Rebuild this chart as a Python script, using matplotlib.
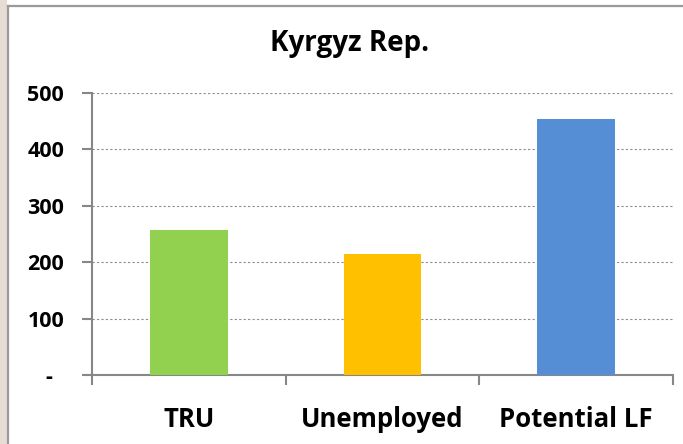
import numpy as np
import matplotlib.pyplot as plt
from matplotlib.patches import Rectangle
from matplotlib.lines import Line2D

categories = ['TRU', 'Unemployed', 'Potential LF']
values = [257, 215, 453]
colors = ['#92D050', '#FFC000', '#558ED5']
yticks = [0, 100, 200, 300, 400, 500]
ytick_labels = ['-  ', '100', '200', '300', '400', '500']

plt.rcParams['font.family'] = ['Open Sans', 'DejaVu Sans']

W, H = 683, 444
fig = plt.figure(figsize=(W / 100, H / 100), dpi=100)

# strip of background at the far left and the chart frame
fig.patches.append(Rectangle((0, 0), 7 / W, 1, transform=fig.transFigure,
                             facecolor='#e6ddd5', edgecolor='none', zorder=0))
fig.lines.append(Line2D([7.5 / W, 7.5 / W], [0, 1 - 6 / H], transform=fig.transFigure,
                        color='#9a9a9a', lw=1.6))
fig.lines.append(Line2D([7.5 / W, 1], [1 - 6 / H, 1 - 6 / H], transform=fig.transFigure,
                        color='#9a9a9a', lw=1.6))

ax = fig.add_axes([92 / W, 1 - 375 / H, (673 - 92) / W, (375 - 92.7) / H])

x_pos = np.arange(len(categories))
ax.bar(x_pos, values, width=0.4, color=colors, zorder=3)

ax.set_xlim(-0.5, len(categories) - 0.5)
ax.set_ylim(0, 500)
ax.set_yticks(yticks)
ax.set_yticklabels(ytick_labels, fontsize=15.5, fontweight='bold')
ax.yaxis.grid(True, linestyle=(0, (2, 2)), color='#8c8c8c', lw=0.8, zorder=0)

# category labels centred, tick marks on the category boundaries
ax.set_xticks(np.arange(-0.5, len(categories)), labels=[''] * (len(categories) + 1))
ax.set_xticks(x_pos, labels=categories, minor=True)
ax.tick_params(axis='x', which='minor', length=0, pad=22, labelsize=18.5)
for lab in ax.get_xticklabels(minor=True):
    lab.set_fontweight('bold')
ax.tick_params(axis='x', which='major', length=7, width=1.5, color='#878787')
ax.tick_params(axis='y', length=7, width=1.5, color='#878787', pad=13)

for s in ['top', 'right']:
    ax.spines[s].set_visible(False)
for s in ['left', 'bottom']:
    ax.spines[s].set_color('#878787')
    ax.spines[s].set_linewidth(1.5)

fig.text(350 / W, 1 - 44 / H, 'Kyrgyz Rep.', ha='center', va='center',
         fontsize=20, fontweight='bold')

fig.savefig('out.png', dpi=100)
